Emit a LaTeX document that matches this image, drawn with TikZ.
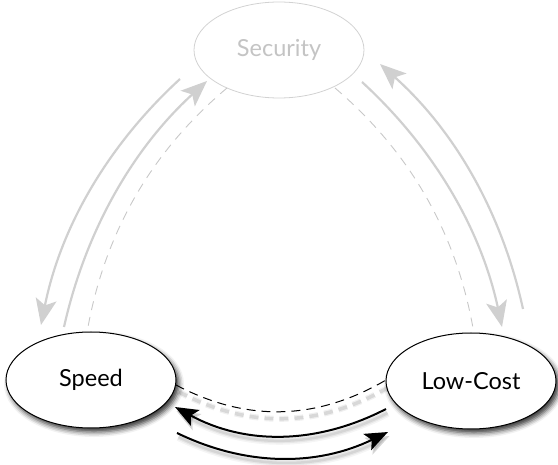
\documentclass[tikz,border=0pt]{standalone}
\usepackage{fontspec}
\setmainfont{Lato}
\usetikzlibrary{arrows.meta,shapes.geometric,shadows.blur}
\definecolor{arrowG}{HTML}{D0D0D0}
\definecolor{dashG}{HTML}{C8C8C8}
\definecolor{rimG}{HTML}{D2D2D2}
\definecolor{textG}{HTML}{C4C4C4}
\begin{document}
\begin{tikzpicture}[x=1pt,y=-1pt,
  state/.style={ellipse, line width=1pt, minimum width=170pt, minimum height=96pt,
    inner sep=0pt, fill=white, font=\fontsize{23.5}{27}\selectfont},
  live/.style={state, draw=black,
    blur shadow={shadow xshift=3pt, shadow yshift=-4pt, shadow blur radius=5pt, shadow opacity=80}},
  faded/.style={state, draw=rimG, text=textG, line width=0.8pt},
  flowG/.style={draw=arrowG, line width=2.2pt, -{Stealth[length=26pt,width=21pt,inset=6pt]}},
  linkG/.style={draw=dashG, line width=0.9pt, dash pattern=on 9pt off 7pt},
  softshade/.style={
    preaction={draw=black, draw opacity=0.04, fill opacity=0.04, line width=8pt, transform canvas={shift={(1.5,4)}}},
    preaction={draw=black, draw opacity=0.06, fill opacity=0.06, line width=5pt, transform canvas={shift={(1.5,4)}}},
    preaction={draw=black, draw opacity=0.08, fill opacity=0.08, line width=2.5pt, transform canvas={shift={(1.5,4)}}}},
  flowK/.style={softshade, draw=black, line width=2pt, -{Stealth[length=23pt,width=18pt,inset=5pt]}},
  linkK/.style={draw=black, line width=1pt, dash pattern=on 9pt off 6pt,
    preaction={draw=black, draw opacity=0.06, line width=6pt, dash pattern=on 9pt off 6pt, transform canvas={shift={(3,7)}}},
    preaction={draw=black, draw opacity=0.10, line width=3.5pt, dash pattern=on 9pt off 6pt, transform canvas={shift={(3,7)}}}},
]
\useasboundingbox (0,0) rectangle (558,465);

% the three goals
\node[faded] (sec) at (279,50) {Security};
\node[live]  (spd) at (91,380) {Speed};
\node[live]  (lc)  at (471,381) {Low-Cost};

% Security <-> Speed
\draw[flowG] ([shift={(-99,29)}]sec.center) .. controls +(-73,67) and +(19.5,-97) .. ([shift={(-50,-55)}]spd.center);
\draw[flowG] ([shift={(-27,-53)}]spd.center) .. controls +(21.8,-97) and +(-73.6,67) .. ([shift={(-72,31)}]sec.center);
\draw[linkG] ([shift={(-52,38)}]sec.center) .. controls +(-74.8,63) and +(17.8,-96.3) .. ([shift={(-3,-53)}]spd.center);

% Security <-> Low-Cost
\draw[flowG] ([shift={(52,-72)}]lc.center) .. controls +(-21.2,-97.2) and +(74.2,66.2) .. ([shift={(101,14)}]sec.center);
\draw[flowG] ([shift={(83,32)}]sec.center) .. controls +(72.7,66.8) and +(-20.7,-96.6) .. ([shift={(31,-54)}]lc.center);
\draw[linkG] ([shift={(56,38)}]sec.center) .. controls +(74.6,63.6) and +(-17.4,-96.4) .. ([shift={(2,-53)}]lc.center);

% Speed <-> Low-Cost
\draw[linkK] ([shift={(85,5)}]spd.center) .. controls +(70,37) and +(-70,41) .. ([shift={(-85,-1)}]lc.center);
\draw[flowK] ([shift={(-85,28)}]lc.center) .. controls +(-70,36) and +(70,38) .. ([shift={(84,27)}]spd.center);
\draw[flowK] ([shift={(86,53)}]spd.center) .. controls +(70,34) and +(-70,34) .. ([shift={(-83,51)}]lc.center);
\end{tikzpicture}
\end{document}
